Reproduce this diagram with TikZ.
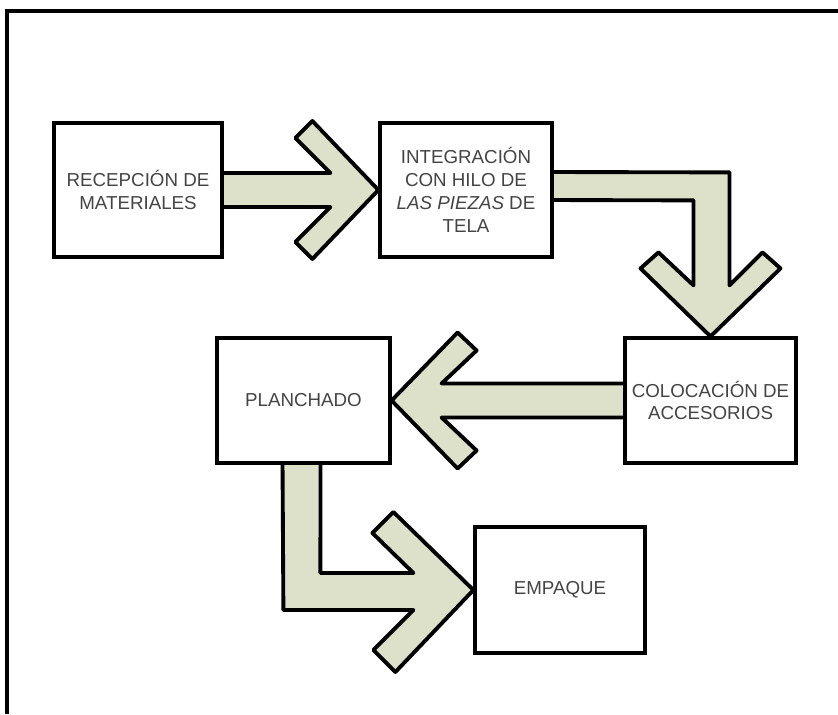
\documentclass[tikz,border=0pt]{standalone}
\usepackage{fontspec}
\setmainfont{Liberation Sans}
\usetikzlibrary{calc,backgrounds}
\definecolor{arrowfill}{RGB}{221,225,201}
\definecolor{labelgray}{RGB}{68,68,68}

\begin{document}
\begin{tikzpicture}[x=0.03cm, y=-0.03cm,
	procbox/.style={draw, line width=3.3pt, fill=white, inner sep=0pt, align=center, text=labelgray, font=\fontsize{16}{19.5}\selectfont},
	blockarrow/.style={draw, line width=3.3pt, line join=round, fill=arrowfill}]
	\useasboundingbox (0,0) rectangle (838,714);
	% frame
	\draw[line width=3.2pt] (7,714) -- (7,11) -- (838,11);
	% process steps
	\node[procbox, minimum width=5.02cm, minimum height=4.0cm] (recepcion) at (138,190) {RECEPCIÓN DE\\MATERIALES};
	\node[procbox, minimum width=5.14cm, minimum height=4.0cm] (integracion) at (466,190) {INTEGRACIÓN\\CON HILO DE\\\textit{LAS PIEZAS} DE\\TELA};
	\node[procbox, minimum width=5.11cm, minimum height=3.73cm] (colocacion) at (710.5,400.5) {COLOCACIÓN DE\\ACCESORIOS};
	\node[procbox, minimum width=5.17cm, minimum height=3.73cm] (planchado) at (303.5,400.5) {PLANCHADO};
	\node[procbox, minimum width=5.08cm, minimum height=3.76cm] (empaque) at (560,590) {EMPAQUE};
	% block arrows
	\begin{scope}[on background layer]
		\coordinate (h1) at (integracion.west);
		\draw[blockarrow] ($(recepcion.east)+(-5,-17)$) -- ($(h1)+(-48,-17)$) -- ($(h1)+(-83,-52)$) -- ($(h1)+(-66,-69)$) -- (h1)
			-- ($(h1)+(-66,69)$) -- ($(h1)+(-83,52)$) -- ($(h1)+(-48,17)$) -- ($(recepcion.east)+(-5,17)$) -- cycle;
		\coordinate (h2) at (colocacion.north);
		\draw[blockarrow] ($(integracion.east)+(-5,-18)$) -- ($(h2)+(19,-164)$) -- ($(h2)+(19,-51)$) -- ($(h2)+(52,-84)$) -- ($(h2)+(70,-68)$) -- (h2)
			-- ($(h2)+(-70,-68)$) -- ($(h2)+(-52,-84)$) -- ($(h2)+(-17,-51)$) -- ($(h2)+(-17,-136)$) -- ($(integracion.east)+(-5,10)$) -- cycle;
		\coordinate (h3) at (planchado.east);
		\draw[blockarrow] ($(colocacion.west)+(5,-17)$) -- ($(h3)+(50,-17)$) -- ($(h3)+(85,-50)$) -- ($(h3)+(66,-68)$) -- (h3)
			-- ($(h3)+(66,68)$) -- ($(h3)+(85,50)$) -- ($(h3)+(50,17)$) -- ($(colocacion.west)+(5,17)$) -- cycle;
		\coordinate (h4) at (empaque.west);
		\draw[blockarrow] ($(planchado.south)+(-21,-5)$) -- ($(h4)+(-190,20)$) -- ($(h4)+(-60,20)$) -- ($(h4)+(-100,60)$) -- ($(h4)+(-78,82)$) -- (h4)
			-- ($(h4)+(-80,-78)$) -- ($(h4)+(-101,-57)$) -- ($(h4)+(-60,-17)$) -- ($(h4)+(-153,-17)$) -- ($(planchado.south)+(17,-5)$) -- cycle;
	\end{scope}
\end{tikzpicture}
\end{document}
